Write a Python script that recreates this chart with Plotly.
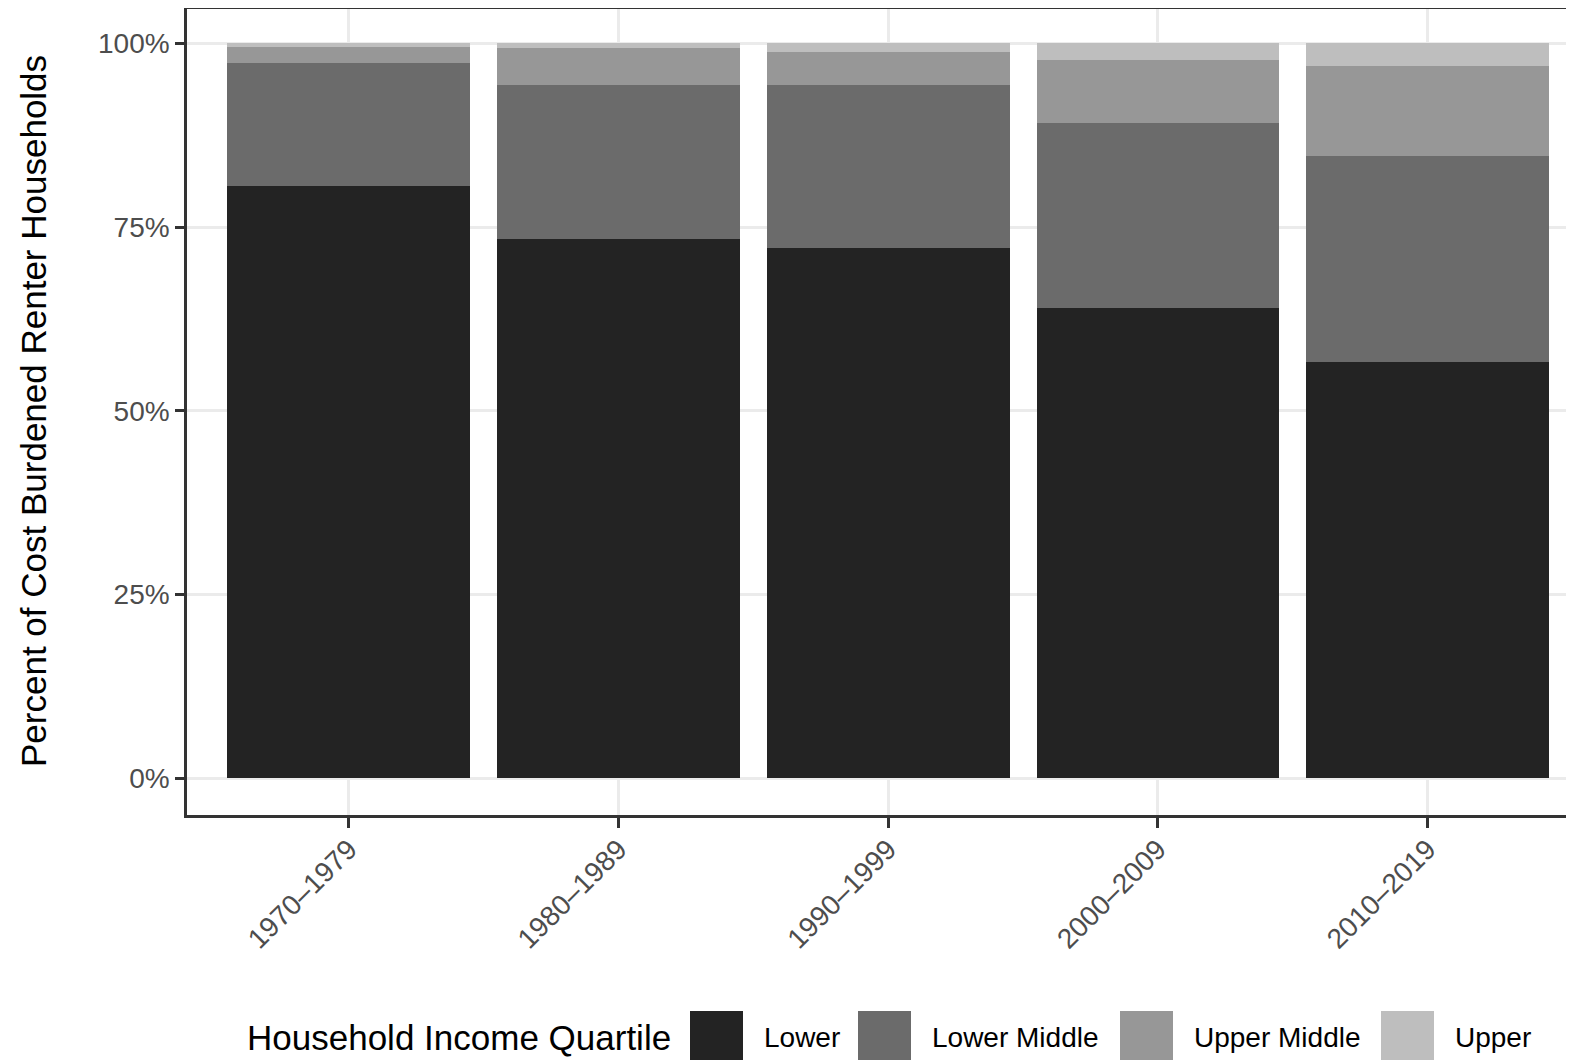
import plotly.graph_objects as go

decades = ["1970–1979", "1980–1989", "1990–1999", "2000–2009", "2010–2019"]
quartiles = ["Lower", "Lower Middle", "Upper Middle", "Upper"]
lower = [0.806, 0.734, 0.721, 0.640, 0.567]
lower_middle = [0.167, 0.209, 0.222, 0.251, 0.279]
upper_middle = [0.022, 0.050, 0.045, 0.086, 0.123]
upper = [0.005, 0.007, 0.012, 0.023, 0.031]
colors = ["#232323", "#6b6b6b", "#979797", "#bebebe"]
y_ticks = [0, 0.25, 0.5, 0.75, 1.0]

series = [lower, lower_middle, upper_middle, upper]

FONT = "Liberation Sans, Arial, Helvetica, sans-serif"
OFF = 8  # default page body margin
PAGE_W, PAGE_H = 1574, 1060
W, H = PAGE_W - OFF, PAGE_H - OFF
# plot area in page pixels
P_LEFT, P_TOP, P_BOTTOM = 187, OFF + 1, 815
L = P_LEFT - OFF
T = P_TOP - OFF
B = PAGE_H - P_BOTTOM
R = 0
PW, PH = W - L - R, H - T - B

def px_x(p):
    return (p - OFF - L) / PW

def px_y(p):
    return (H - B - (p - OFF)) / PH

fig = go.Figure()
xs = list(range(len(decades)))
for name, vals, col in zip(quartiles, series, colors):
    fig.add_trace(go.Bar(
        x=xs, y=vals, name=name, marker=dict(color=col, line=dict(width=0)),
        width=0.9, showlegend=False,
    ))

step = 269.7
xmax = -0.6 + PW / step
ymin = -0.05
ymax = ymin + PH / 735.0

fig.update_layout(
    barmode="stack",
    width=W, height=H,
    margin=dict(l=L, r=R, t=T, b=B, autoexpand=False),
    plot_bgcolor="white", paper_bgcolor="white",
    font=dict(family=FONT, size=28, color="#4d4d4d"),
    xaxis=dict(
        range=[-0.6, xmax], tickmode="array", tickvals=xs, ticktext=decades,
        tickangle=-45, ticks="outside", ticklen=10, tickwidth=2.5, tickcolor="#333333",
        showgrid=True, gridcolor="#ebebeb", gridwidth=3, automargin=False,
        ticklabelstandoff=-6,
        showline=True, linecolor="#333333", linewidth=2.5, mirror=True,
        zeroline=False, tickfont=dict(size=28, color="#4d4d4d", family=FONT),
    ),
    yaxis=dict(
        range=[ymin, ymax], tickmode="array", tickvals=y_ticks, automargin=False,
        tickformat=".0%", ticks="outside", ticklen=9, tickwidth=2.5, tickcolor="#333333",
        showgrid=True, gridcolor="#ebebeb", gridwidth=3,
        showline=True, linecolor="#333333", linewidth=2.5, mirror=False,
        zeroline=False, tickfont=dict(size=28, color="#4d4d4d", family=FONT),
    ),
)

annotations = [dict(
    text="Percent of Cost Burdened Renter Households", textangle=-90,
    xref="paper", yref="paper", x=px_x(33), y=px_y(411), xanchor="center", yanchor="middle",
    showarrow=False, font=dict(size=35, color="black", family=FONT),
)]
annotations.append(dict(
    text="Household Income Quartile", xref="paper", yref="paper",
    x=px_x(245), y=px_y(1037), xanchor="left", yanchor="middle",
    showarrow=False, font=dict(size=35, color="black", family=FONT),
))
shapes = []
key_left = [690, 858, 1120, 1381]
for name, col, kx in zip(quartiles, colors, key_left):
    shapes.append(dict(
        type="rect", xref="paper", yref="paper",
        x0=px_x(kx), x1=px_x(kx + 53), y0=px_y(1064), y1=px_y(1011),
        fillcolor=col, line=dict(width=0), layer="above",
    ))
    annotations.append(dict(
        text=name, xref="paper", yref="paper",
        x=px_x(kx + 72), y=px_y(1037), xanchor="left", yanchor="middle",
        showarrow=False, font=dict(size=28, color="black", family=FONT),
    ))

fig.update_layout(annotations=annotations, shapes=shapes)
fig.write_html("out.html")
